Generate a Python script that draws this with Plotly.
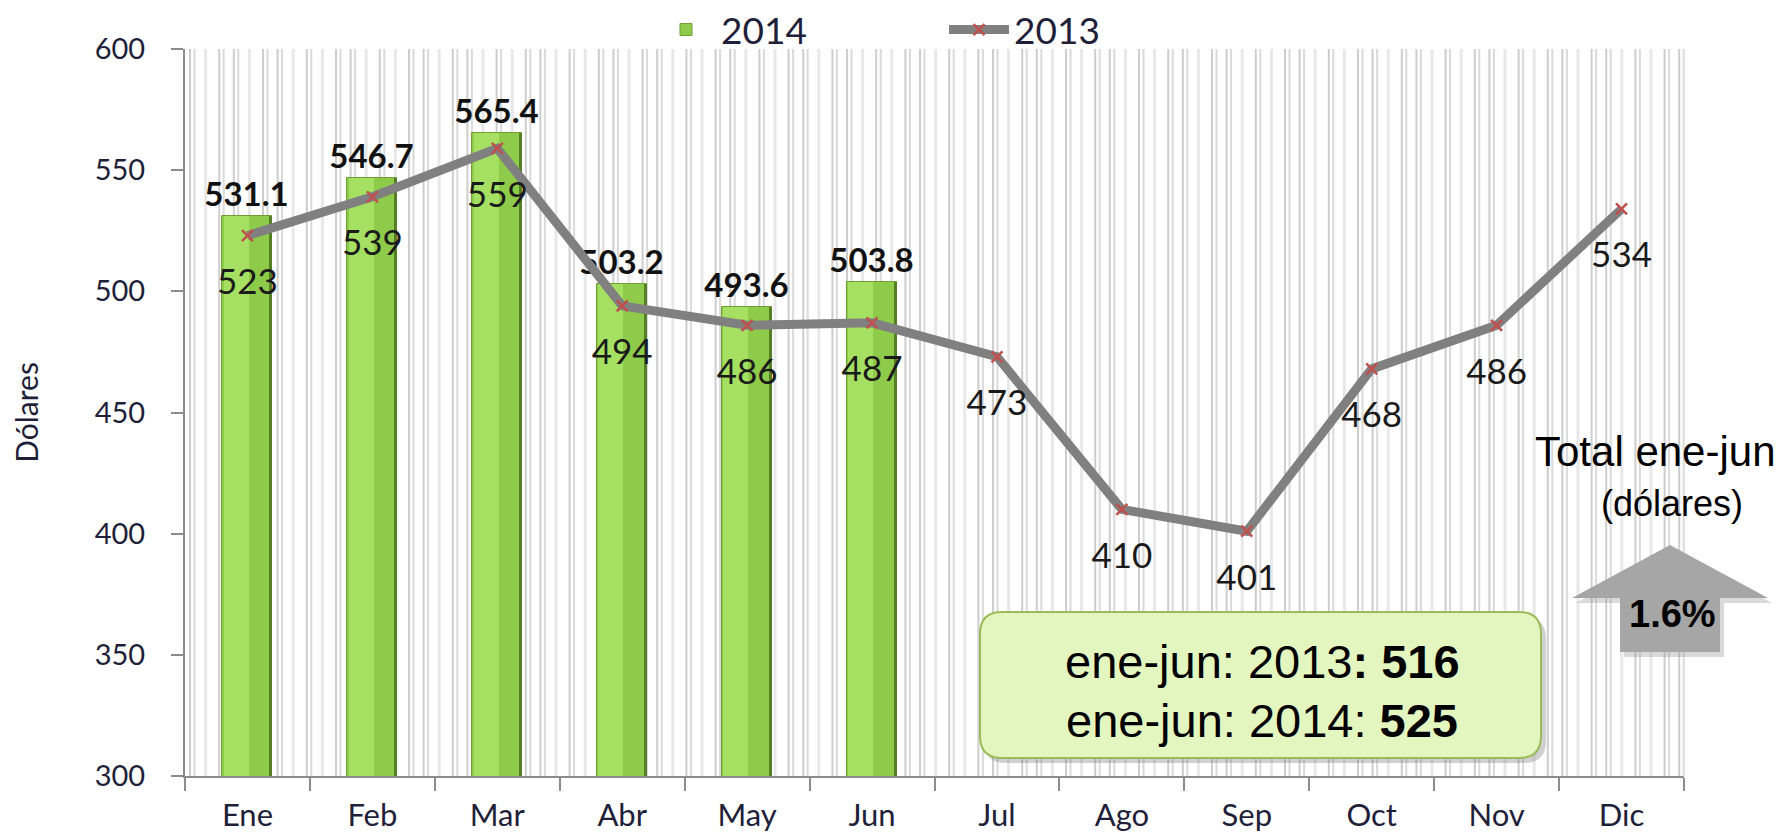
import plotly.graph_objects as go

# ---------------- data ----------------
months = ["Ene", "Feb", "Mar", "Abr", "May", "Jun", "Jul", "Ago", "Sep", "Oct", "Nov", "Dic"]
months_2014 = ["Ene", "Feb", "Mar", "Abr", "May", "Jun"]
values_2014 = [531.1, 546.7, 565.4, 503.2, 493.6, 503.8]
values_2013 = [523, 539, 559, 494, 486, 487, 473, 410, 401, 468, 486, 534]
total_2013 = 516
total_2014 = 525
change_pct = "1.6%"

# ---------------- layout geometry (pixels, page coords) ----------------
OFF = 8  # default body margin of the html page
W, H = 1787 - OFF, 839 - OFF
L, R, T, B = 185, 1684, 49, 776   # plot area edges in page pixels
PW, PH = R - L, B - T


def px(x):
    return (x - L) / PW


def py(y):
    return (B - y) / PH


FONT_C = "Lato"
FONT_A = "Liberation Sans, Arial"

fig = go.Figure()

# 2014 bars (main face)
fig.add_trace(go.Bar(
    x=months_2014, y=values_2014, name="2014",
    width=0.4, marker=dict(color="#8fcb4a", line=dict(color="#6f9e35", width=1)),
    text=[f"{v:.1f}" for v in values_2014], textposition="outside", constraintext="none",
    textfont=dict(family=FONT_C, size=33, color="#111111", weight="bold"),
    cliponaxis=False,
))
# highlight left part of bars
fig.add_trace(go.Bar(
    x=months_2014, y=values_2014, width=0.2, offset=-0.19,
    marker=dict(color="#a5e062", line=dict(width=0)),
    showlegend=False, hoverinfo="skip",
))
# dark right edge
fig.add_trace(go.Bar(
    x=months_2014, y=values_2014, width=0.025, offset=0.175,
    marker=dict(color="#557f25", line=dict(width=0)),
    showlegend=False, hoverinfo="skip",
))

# 2013 line
fig.add_trace(go.Scatter(
    x=months, y=values_2013, name="2013", mode="lines+markers",
    line=dict(color="#808080", width=9),
    marker=dict(symbol="x-thin", size=11, line=dict(color="#c0504d", width=2.5), color="#c0504d"),
    cliponaxis=False,
))
# 2013 labels (transparent large markers push the text below the points)
fig.add_trace(go.Scatter(
    x=months, y=values_2013, mode="markers+text", showlegend=False, hoverinfo="skip",
    marker=dict(size=50, color="rgba(0,0,0,0)"),
    text=[str(v) for v in values_2013], textposition="bottom center",
    textfont=dict(family=FONT_C, size=35, color="#1a1a1a"),
    cliponaxis=False,
))

shapes = []
# background stripe pattern (decoration)
pattern = ["d", "l", "d", "d", "l", "d", "d", "l", "d", "l", "d", "d", "l"]
pos = L + 5.0
i = 0
while pos < R - 3:
    kind = pattern[i % len(pattern)]
    if kind == "d":
        for off, col in ((0, "#cdcdcd"), (4.5, "#dadada")):
            xx = px(pos + off)
            shapes.append(dict(type="line", xref="paper", yref="paper", x0=xx, x1=xx, y0=0, y1=1,
                               line=dict(color=col, width=2), layer="below"))
    else:
        xx = px(pos + 1)
        shapes.append(dict(type="line", xref="paper", yref="paper", x0=xx, x1=xx, y0=0, y1=1,
                           line=dict(color="#e8e8e8", width=3), layer="below"))
    pos += 14.6
    i += 1


def rounded_rect(x0, y0, x1, y1, r):
    def P(x, y):
        return f"{px(x):.5f},{py(y):.5f}"
    return (f"M {P(x0 + r, y0)} L {P(x1 - r, y0)} Q {P(x1, y0)} {P(x1, y0 + r)} "
            f"L {P(x1, y1 - r)} Q {P(x1, y1)} {P(x1 - r, y1)} L {P(x0 + r, y1)} "
            f"Q {P(x0, y1)} {P(x0, y1 - r)} L {P(x0, y0 + r)} Q {P(x0, y0)} {P(x0 + r, y0)} Z")


# box shadow + box
shapes.append(dict(type="path", xref="paper", yref="paper",
                   path=rounded_rect(984, 617, 1546, 763, 22),
                   fillcolor="rgba(120,120,120,0.35)", line=dict(width=0), layer="above"))
shapes.append(dict(type="path", xref="paper", yref="paper",
                   path=rounded_rect(980, 612, 1541, 758, 22),
                   fillcolor="#e4f6c0", line=dict(color="#9bbb59", width=2), layer="above"))


def poly(points):
    return "M " + " L ".join(f"{px(x):.5f},{py(y):.5f}" for x, y in points) + " Z"


arrow_pts = [(1670, 545), (1768, 598), (1720, 598), (1720, 652), (1620, 652), (1620, 598), (1572, 598)]
shadow_pts = [(x + 4, y + 5) for x, y in arrow_pts]
shapes.append(dict(type="path", xref="paper", yref="paper", path=poly(shadow_pts),
                   fillcolor="rgba(150,150,150,0.35)", line=dict(width=0), layer="above"))
shapes.append(dict(type="path", xref="paper", yref="paper", path=poly(arrow_pts),
                   fillcolor="#a6a6a6", line=dict(width=0), layer="above"))


def ann(x, y, text, size, family=FONT_A):
    return dict(x=px(x), y=py(y), xref="paper", yref="paper", text=text, showarrow=False,
                xanchor="center", yanchor="middle",
                font=dict(family=family, size=size, color="#000000"))


annotations = [
    ann(1262, 661, f"ene-jun: 2013<b>: {total_2013}</b>", 47),
    ann(1262, 720, f"ene-jun: 2014: <b>{total_2014}</b>", 47),
    ann(1655, 451, "Total ene-jun", 42),
    ann(1672, 503, "(dólares)", 36),
    ann(1672, 614, f"<b>{change_pct}</b>", 38),
]

fig.update_layout(
    width=W, height=H,
    margin=dict(l=L - OFF, r=W - (R - OFF), t=T - OFF, b=H - (B - OFF), autoexpand=False),
    paper_bgcolor="white", plot_bgcolor="white",
    barmode="overlay", bargap=0,
    showlegend=True,
    legend=dict(orientation="h", x=px(651), xanchor="left", y=py(30), yanchor="middle",
                font=dict(family=FONT_C, size=37, color="#1f1f3a"),
                entrywidth=218, itemwidth=60, bgcolor="rgba(0,0,0,0)",
                borderwidth=0),
    xaxis=dict(
        type="category", categoryorder="array", categoryarray=months,
        range=[-0.5, 11.5], showline=True, linecolor="#8c8c8c", linewidth=2,
        ticks="outside", tickson="boundaries", ticklen=13, tickcolor="#8c8c8c", tickwidth=2,
        ticklabelstandoff=11,
        tickfont=dict(family=FONT_C, size=31, color="#1f1f3a"), showgrid=False,
    ),
    yaxis=dict(
        range=[300, 600], dtick=50, showline=True, linecolor="#8c8c8c", linewidth=2,
        ticks="outside", ticklen=12, tickcolor="#8c8c8c", tickwidth=2,
        ticklabelstandoff=20,
        tickfont=dict(family=FONT_C, size=29, color="#1f1f3a"), showgrid=False,
        zeroline=False,
        title=dict(text="Dólares", font=dict(family=FONT_C, size=30, color="#1f1f3a"), standoff=52),
    ),
    shapes=shapes,
    annotations=annotations,
)

fig.write_html("out.html")
